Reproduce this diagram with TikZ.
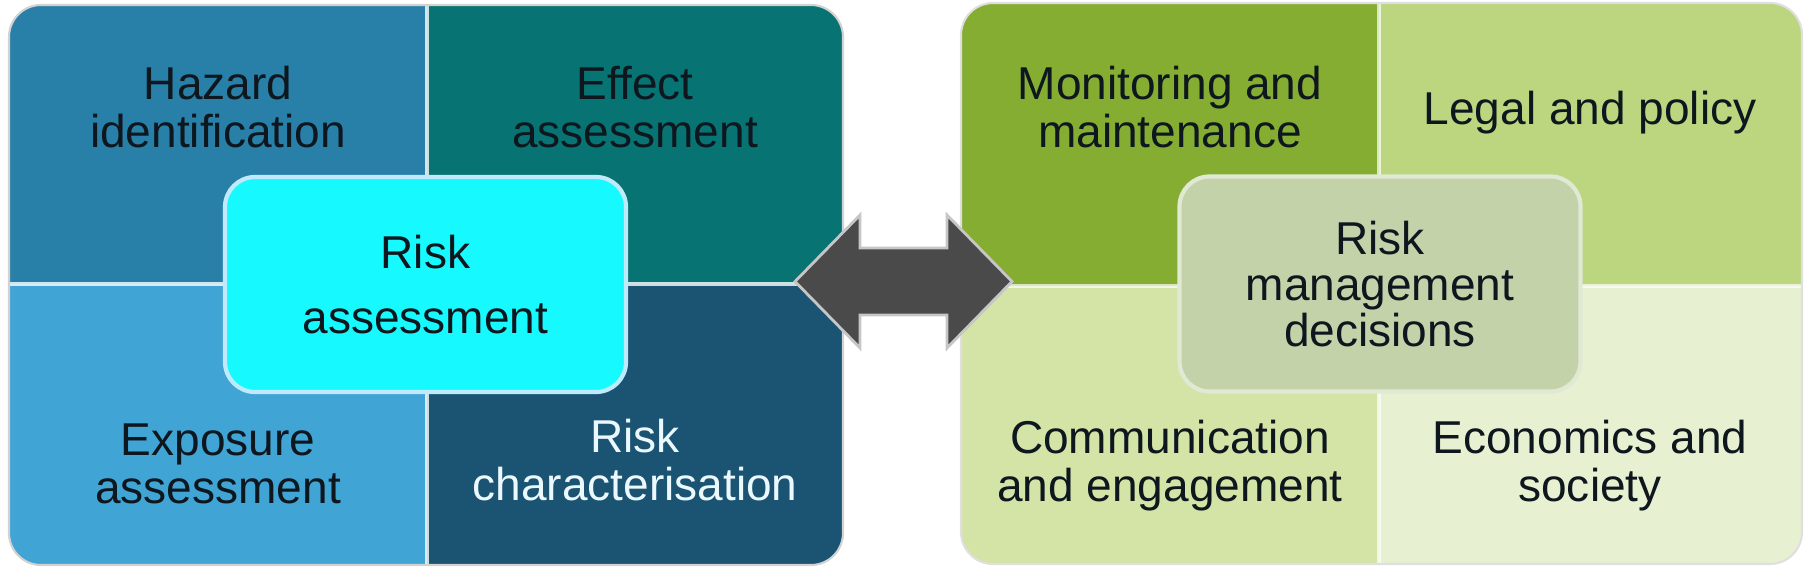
\documentclass[tikz,border=0pt]{standalone}
\usepackage{fontspec}
\setmainfont{Liberation Sans}
\usetikzlibrary{calc}

\definecolor{hazardc}{RGB}{40,128,168}
\definecolor{effectc}{RGB}{8,115,115}
\definecolor{exposurec}{RGB}{64,164,212}
\definecolor{charc}{RGB}{26,84,114}
\definecolor{assessc}{RGB}{22,250,255}
\definecolor{monitorc}{RGB}{133,173,50}
\definecolor{legalc}{RGB}{187,214,127}
\definecolor{commc}{RGB}{212,227,166}
\definecolor{econc}{RGB}{231,240,209}
\definecolor{decidec}{RGB}{196,210,170}
\definecolor{arrowc}{RGB}{74,74,74}
\definecolor{inkc}{RGB}{14,22,30}

\begin{document}
\begin{tikzpicture}[
    lbl/.style={align=center,text=inkc,font=\fontsize{13.1}{13.66}\selectfont},
    midbox/.style={lbl,rounded corners=0.3cm,minimum width=4.01cm,minimum height=2.15cm,line width=1.2pt}]
    \useasboundingbox (0,0) rectangle (18.07,5.71);
    \begin{scope}
        \clip[rounded corners=0.32cm] (0.09,0.06) rectangle (8.43,5.66);
        \foreach \xa/\ya/\xb/\yb/\c in{0/2.87/4.27/6/hazardc,4.27/2.87/9/6/effectc,0/0/4.27/2.87/exposurec,4.27/0/9/2.87/charc}{
            \fill[\c] (\xa,\ya) rectangle (\xb,\yb);
        };
        \draw[white,line width=1pt,opacity=0.8] (4.27,0) -- (4.27,6) (0,2.87) -- (9,2.87);
    \end{scope}
    \begin{scope}
        \clip[rounded corners=0.32cm] (9.61,0.07) rectangle (18.02,5.68);
        \foreach \xa/\ya/\xb/\yb/\c in{9/2.85/13.79/6/monitorc,13.79/2.85/18.1/6/legalc,9/0/13.79/2.85/commc,13.79/0/18.1/2.85/econc}{
            \fill[\c] (\xa,\ya) rectangle (\xb,\yb);
        };
        \draw[white,line width=1pt,opacity=0.7] (13.79,0) -- (13.79,6) (9,2.85) -- (18.1,2.85);
    \end{scope}
    \draw[gray!35,line width=0.6pt,rounded corners=0.32cm] (0.09,0.06) rectangle (8.43,5.66);
    \draw[gray!25,line width=0.6pt,rounded corners=0.32cm] (9.61,0.07) rectangle (18.02,5.68);

    \node[lbl] (hazard) at (2.18,4.64) {Hazard\\identification};
    \node[lbl] (effect) at (6.35,4.64) {Effect\\assessment};
    \node[lbl] (exposure) at (2.18,1.07) {Exposure\\assessment};
    \node[lbl,text=white!92!cyan] (charact) at (6.35,1.11) {Risk\\characterisation};
    \node[midbox,fill=assessc,draw=white!75!cyan,font=\fontsize{13.1}{18.5}\selectfont] (assess) at (4.255,2.865) {Risk\\assessment};

    \node[lbl] (monitor) at (11.70,4.64) {Monitoring and\\maintenance};
    \node[lbl] (legal) at (15.90,4.58) {Legal and policy};
    \node[lbl] (comm) at (11.70,1.05) {Communication\\and engagement};
    \node[lbl] (econ) at (15.90,1.05) {Economics and\\society};
    \node[midbox,fill=decidec,draw=decidec!50!white,font=\fontsize{13.1}{13.2}\selectfont] (decide) at (13.80,2.87) {Risk\\management\\decisions};

    \draw[fill=arrowc,draw=gray!45,line width=0.8pt] (7.95,2.895) -- (8.60,3.56) -- (8.60,3.23) -- (9.47,3.23) -- (9.47,3.56) -- (10.12,2.895)
        -- (9.47,2.23) -- (9.47,2.56) -- (8.60,2.56) -- (8.60,2.23) -- cycle;
\end{tikzpicture}
\end{document}
